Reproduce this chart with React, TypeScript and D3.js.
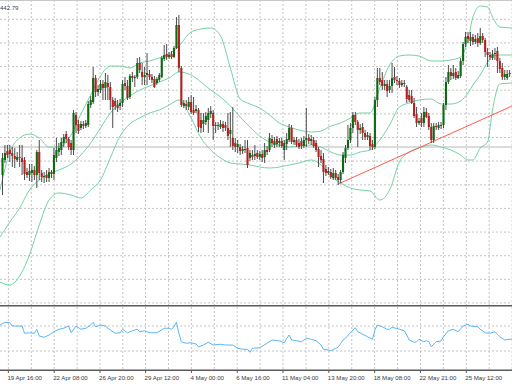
import React from "react";
import * as d3 from "d3";

const W = 512;
const H = 384;

// candles: [open, high, low, close]
const ohlc: [number, number, number, number][] = [
  [125,147,105,142],[140,155,137,147],[149,155,142,145],[150,155,138,146],[147,153,133,144],
  [144,152,132,141],[140,148,138,143],[143,155,133,142],[142,155,125,138],[140,143,120,126],
  [128,132,122,125],[125,136,119,129],[127,136,118,130],[130,134,120,125],[125,150,112,148],
  [148,160,120,127],[127,130,118,123],[123,128,117,124],[125,130,118,122],[122,132,118,128],
  [128,130,122,126],[126,152,120,145],[142,162,138,150],[148,157,144,152],[150,162,145,158],
  [157,166,153,163],[166,169,157,161],[161,163,150,153],[157,160,145,150],[150,190,145,187],
  [185,188,167,175],[176,180,166,169],[172,179,170,176],[176,179,171,174],[174,180,172,177],
  [175,199,173,196],[195,204,192,200],[198,233,196,222],[222,225,203,208],[208,215,204,211],
  [210,220,207,216],[216,220,200,212],[212,227,200,218],[217,225,200,213],[213,218,190,200],
  [200,203,172,193],[199,202,190,194],[195,200,188,192],[194,201,190,197],[197,220,193,216],
  [217,223,210,214],[214,220,200,202],[203,226,201,224],[224,228,218,222],[222,225,213,223],
  [223,242,221,237],[237,243,227,230],[228,237,215,223],[223,233,215,225],[225,247,215,227],
  [226,230,220,223],[223,226,217,220],[221,224,212,213],[217,223,215,221],[220,227,218,225],
  [223,244,222,242],[241,255,239,245],[246,256,240,243],[243,248,241,245],[246,249,241,243],
  [243,254,242,252],[252,283,251,275],[275,285,228,232],[232,234,193,195],[194,200,192,197],
  [196,200,190,194],[193,203,190,198],[198,205,186,188],[190,203,185,187],[189,195,187,191],
  [190,192,168,173],[180,187,167,172],[176,187,168,180],[178,188,175,184],[180,192,167,187],
  [186,194,182,189],[187,190,160,174],[174,178,167,175],[175,178,170,174],[173,180,171,176],
  [176,179,168,172],[175,178,169,172],[172,187,160,164],[166,188,153,170],[162,193,150,154],
  [157,162,148,153],[153,160,147,156],[153,156,145,149],[149,154,146,151],[151,160,147,150],
  [152,160,132,135],[142,150,139,147],[145,150,140,143],[144,155,140,146],[147,150,141,143],
  [143,149,140,146],[146,150,138,142],[143,157,137,150],[150,154,145,148],[150,167,148,162],
  [161,165,153,157],[155,163,152,159],[161,164,153,156],[157,162,153,159],[159,162,152,154],
  [150,160,140,157],[156,167,150,161],[160,176,158,172],[172,175,156,158],[158,163,155,160],
  [160,163,153,155],[157,161,151,153],[159,162,151,154],[154,164,152,160],[160,192,153,162],
  [162,166,156,159],[159,165,155,161],[160,163,152,154],[157,160,148,150],[151,153,133,143],
  [144,150,137,140],[141,147,117,128],[131,135,124,127],[127,133,125,129],[128,131,121,123],
  [122,132,120,127],[127,130,120,122],[123,126,115,120],[120,130,117,128],[128,148,126,145],
  [142,155,137,152],[152,175,150,160],[160,177,157,172],[172,188,167,185],[185,188,175,178],
  [178,180,153,170],[170,176,166,172],[173,177,160,167],[167,170,160,163],[163,168,160,165],
  [164,167,150,154],[156,160,150,153],[153,203,151,200],[200,232,193,222],[222,232,215,218],
  [220,228,210,214],[214,220,210,216],[216,220,203,209],[210,220,207,214],[214,237,207,222],
  [223,233,217,220],[220,224,215,219],[219,222,212,215],[215,220,213,217],[217,220,213,216],
  [213,215,197,201],[205,210,198,200],[204,210,196,197],[197,202,182,184],[186,193,173,177],
  [177,182,175,179],[182,187,173,177],[177,193,173,188],[188,192,182,183],[184,187,170,173],
  [173,177,157,160],[160,177,157,174],[174,177,170,173],[172,178,170,175],[175,178,171,174],
  [175,197,172,195],[195,223,190,218],[218,235,216,228],[228,232,220,224],[224,235,221,227],
  [228,232,220,222],[222,229,221,225],[224,242,222,239],[239,258,235,256],[256,268,253,263],
  [264,268,257,261],[259,268,254,263],[263,266,255,258],[258,265,256,261],[262,267,253,257],
  [257,272,255,264],[264,267,257,260],[260,262,243,248],[248,252,233,245],[245,248,240,243],
  [242,250,240,246],[246,252,240,247],[249,253,227,239],[239,242,227,231],[232,237,220,223],
  [223,230,220,226],[222,230,220,226],[226,230,223,227],
];

// Bollinger bands (read at sample bars)
const bandBars = [-1,3,7,11,15,19,23,28,32,36,40,44,48,52,56,60,64,68,72,77,81,85,89,93,97,101,105,109,113,117,121,126,130,134,138,142,146,150,154,158,162,166,170,175,179,183,187,190,192,195,198,200,203,208];
const upperBand = [110,148,162,166,162,153,153,165,186,205,224,234,234,232,237,239,242,246,254,268,271,272,264,232,201,196,192,185,177,173,170,168,169,174,177,182,187,187,212,235,244,245,244,239,239,240,243,260,283,294,293,283,273,272];
const middleBand = [63,78,92,110,120,126,130,136,145,157,172,187,197,204,210,214,218,222,228,225,218,210,203,194,183,173,164,158,155,153,154,155,153,148,145,145,148,150,160,175,193,197,200,201,196,196,199,207,215,225,238,244,245,245];
const lowerBand = [18,15,24,45,75,100,107,105,102,110,120,142,164,176,182,187,190,195,200,182,162,150,142,137,136,135,133,132,133,135,137,140,135,124,117,112,110,109,100,110,138,148,152,155,153,150,145,140,140,152,158,190,216,217];

// oscillator in lower pane
const indBars = [-1,1,3,4,6,8,9,11,13,14,15,17,19,21,23,25,27,28,30,32,34,36,37,38,40,42,44,46,48,49,51,53,55,56,58,60,63,66,68,69,70,71,72,73,75,77,79,80,82,84,86,89,91,94,96,98,100,101,102,105,108,110,113,115,116,117,118,120,122,124,126,128,130,131,133,134,136,137,139,140,142,144,145,147,149,151,152,153,155,157,158,159,162,164,165,166,168,169,170,172,173,174,175,177,179,180,182,184,186,188,190,191,194,195,197,199,201,203,205,208];
const indValues = [60.8,63,62.6,60,60,60,54.2,54.6,54.2,57.4,52,51,52.8,55.4,57.4,58.2,60,54.6,60,57.4,58.2,60.8,63,59.4,60.8,60,56.8,54.2,54.6,57.4,54.6,56.2,57.4,55.4,56.2,54.6,54.6,58.2,58.2,57.4,59.4,63,54.2,47.4,46.2,46.6,45.6,43.4,44.8,47,44.8,45.4,44.8,44.8,42.2,41.4,41.4,39,42.2,42.6,46.2,48.8,48.2,46.6,50.2,52.8,48.8,48.2,47.4,50.2,49.4,48.2,44.8,41.4,40.8,40.2,42.2,43,48.8,50.2,54.6,58.6,55.4,53.4,51.4,49.4,56.8,60.8,59.4,57.4,57.4,59,57.4,56.2,52.8,48.8,47,47.4,49.4,47.4,48.2,47.4,43.4,47.4,48,51.4,56.2,57.4,55.4,60,61.4,60,59.4,57.4,54.6,54.2,55.4,51.4,48.8,49.6];

const timeLabels = ["19 Apr 16:00","22 Apr 08:00","26 Apr 20:00","29 Apr 12:00","4 May 00:00","6 May 16:00","11 May 04:00","13 May 20:00","18 May 08:00","22 May 21:00","25 May 12:00"];
const labelBars = [2.4,21.1,39.8,58.4,77.1,95.8,114.5,133.2,151.9,170.6,189.3,208.0];

const priceGrid = [280.7,257.1,233.4,209.8,186.1,162.5,138.9,115.2,91.6,67.9,44.3,20.7,-2.9];
const indGrid = [60, 40];
const refLevel = 153;
const trendStart: [number, number] = [137, 116];
const trendEnd: [number, number] = [208, 194];
const headerText = "442.79";

const FONT = "'Liberation Sans', Arial, sans-serif";

export default function App() {
  const x = d3.scaleLinear().domain([0, 207]).range([2.5, 509.65]);
  const y = d3.scaleLinear().domain([0, 300]).range([300, 0]);
  const yi = d3.scaleLinear().domain([24.8, 76]).range([370, 306]);

  const mainBottom = 305;

  const gridBars: number[] = [];
  labelBars.forEach((b, k) => {
    gridBars.push(b);
    if (k < labelBars.length - 1) gridBars.push((b + labelBars[k + 1]) / 2);
  });

  const bandLine = (vals: number[]) =>
    d3
      .line<number>()
      .x((_, k) => x(bandBars[k]))
      .y((v) => y(v))
      .curve(d3.curveMonotoneX)(vals) || "";

  const indLine =
    d3
      .line<number>()
      .x((_, k) => x(indBars[k]))
      .y((v) => yi(v))(indValues) || "";

  const gridColor = "#c4c4c4";
  const bandColor = "#74d2a4";

  return (
    <svg
      width={W}
      height={H}
      style={{ position: "absolute", left: 0, top: 0, background: "#fff" }}
    >
      <defs>
        <clipPath id="mainClip">
          <rect x={0} y={0} width={W} height={mainBottom} />
        </clipPath>
        <clipPath id="indClip">
          <rect x={0} y={306} width={W} height={64} />
        </clipPath>
      </defs>
      <rect x={0} y={0} width={W} height={H} fill="#fff" />

      {/* grids */}
      <g stroke={gridColor} strokeWidth={1} strokeDasharray="2,2">
        {priceGrid.map((p, k) => (
          <line key={"h" + k} x1={0} x2={W} y1={y(p)} y2={y(p)} />
        ))}
        {gridBars.map((b, k) => (
          <line key={"v" + k} x1={x(b)} x2={x(b)} y1={0} y2={mainBottom} />
        ))}
        {indGrid.map((v, k) => (
          <line key={"ih" + k} x1={0} x2={W} y1={yi(v)} y2={yi(v)} />
        ))}
        {gridBars.map((b, k) => (
          <line key={"iv" + k} x1={x(b)} x2={x(b)} y1={307} y2={370} />
        ))}
      </g>

      <line x1={0} x2={W} y1={0.5} y2={0.5} stroke="#c8c8c8" strokeWidth={1} />

      <g clipPath="url(#mainClip)">
        <line x1={0} x2={W} y1={y(refLevel)} y2={y(refLevel)} stroke="#cfcfcf" strokeWidth={1.6} />

        <g fill="none" stroke={bandColor} strokeWidth={1}>
          <path d={bandLine(upperBand)} />
          <path d={bandLine(middleBand)} />
          <path d={bandLine(lowerBand)} />
        </g>

        <line
          x1={x(trendStart[0])}
          y1={y(trendStart[1])}
          x2={x(trendEnd[0])}
          y2={y(trendEnd[1])}
          stroke="#ff5b4d"
          strokeWidth={1}
        />

        {ohlc.map(([o, h, l, c], i) => {
          const cx = x(i);
          const up = c >= o;
          const top = y(Math.max(o, c));
          const bot = y(Math.min(o, c));
          return (
            <g key={i}>
              <line x1={cx} x2={cx} y1={y(h)} y2={y(l)} stroke="#4a4a4a" strokeWidth={1} />
              <rect
                x={cx - 1.05}
                y={top}
                width={2.1}
                height={Math.max(1, bot - top)}
                fill={up ? "#0c6a12" : "#b3211d"}
              />
            </g>
          );
        })}
      </g>

      <text x={0} y={9.5} fontSize={6} fontFamily={FONT} fill="#444">
        {headerText}
      </text>

      <line x1={0} x2={W} y1={305.8} y2={305.8} stroke="#5a5a5a" strokeWidth={1.6} />
      <line x1={0} x2={W} y1={370.2} y2={370.2} stroke="#5a5a5a" strokeWidth={1.6} />

      <g clipPath="url(#indClip)">
        <path d={indLine} fill="none" stroke="#5bb6f4" strokeWidth={1} />
      </g>

      {timeLabels.map((t, k) => (
        <g key={"t" + k}>
          <line
            x1={x(labelBars[k])}
            x2={x(labelBars[k])}
            y1={370}
            y2={373}
            stroke="#5a5a5a"
            strokeWidth={1}
          />
          <text
            x={x(labelBars[k]) - 1}
            y={379.5}
            fontSize={6.1}
            fontFamily={FONT}
            fill="#3a3a3a"
          >
            {t}
          </text>
        </g>
      ))}
    </svg>
  );
}
